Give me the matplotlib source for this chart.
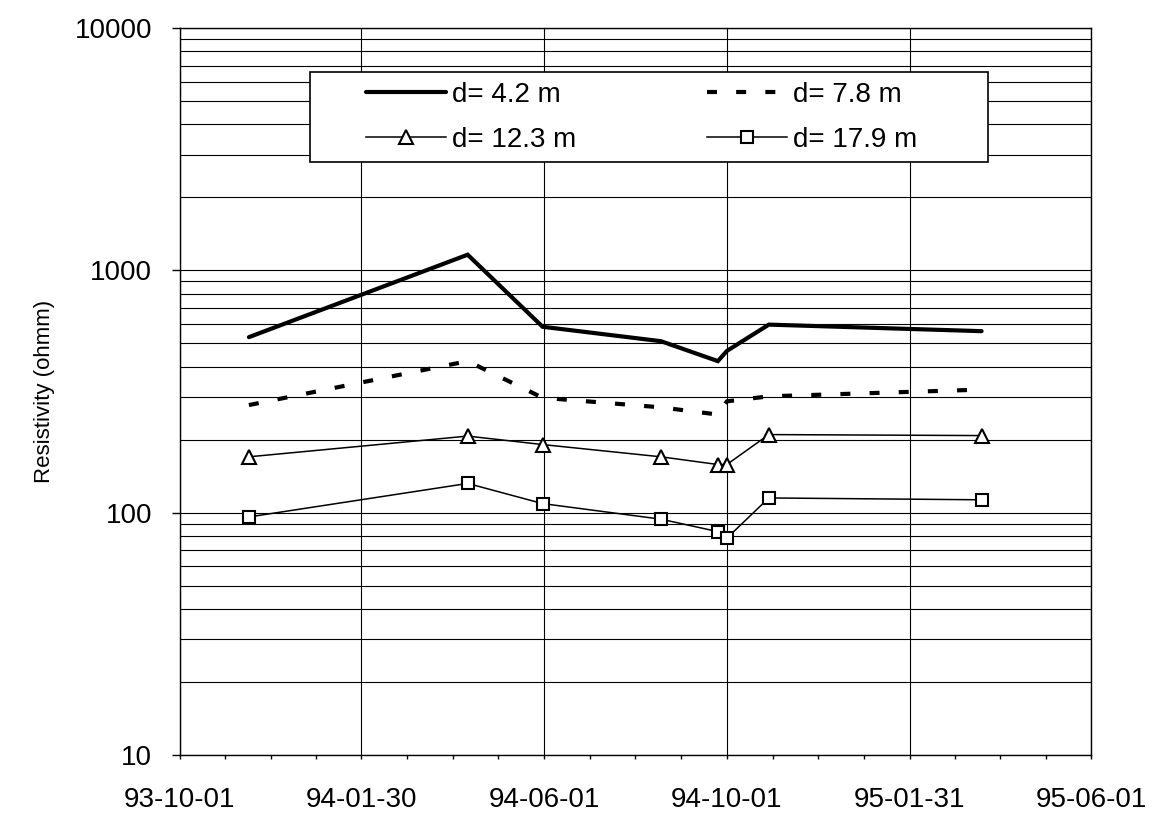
import datetime as dt
import numpy as np
import matplotlib
matplotlib.use("Agg")
import matplotlib.pyplot as plt
import matplotlib.dates as mdates
from matplotlib.ticker import FixedLocator, LogLocator, NullFormatter, FuncFormatter
from matplotlib.patches import Rectangle

plt.rcParams['font.family'] = ['Liberation Sans', 'DejaVu Sans']

# measurement dates (yy-mm-dd)
dates = ['1993-11-16', '1994-04-11', '1994-05-31', '1994-08-18',
         '1994-09-25', '1994-10-01', '1994-10-29', '1995-03-20']

# apparent resistivity (ohmm) for each electrode separation
res_42 = [530, 1160, 585, 510, 422, 465, 597, 561]
res_78 = [278, 422, 298, 272, 254, 288, 302, 322]
res_123 = [170, 207, 191, 170, 158, 158, 210, 208]
res_179 = [96, 132, 109, 94, 83.5, 78.5, 115, 113]

labels = ['d= 4.2 m', 'd= 7.8 m', 'd= 12.3 m', 'd= 17.9 m']

xticks = ['1993-10-01', '1994-01-30', '1994-06-01', '1994-10-01', '1995-01-31', '1995-06-01']
xticklabels = ['93-10-01', '94-01-30', '94-06-01', '94-10-01', '95-01-31', '95-06-01']
yticks = [10, 100, 1000, 10000]


def to_date(s):
    return dt.datetime.strptime(s, '%Y-%m-%d')


x = [to_date(d) for d in dates]

fig = plt.figure(figsize=(11.59, 8.14), dpi=100)
ax = fig.add_axes([0.1553, 0.0725, 0.7860, 0.8931])

l1, = ax.plot(x, res_42, color='black', lw=3.0, solid_capstyle='round', solid_joinstyle='miter', zorder=5)
l2, = ax.plot(x, res_78, color='black', lw=3.0, dashes=(2.4, 4.6), dash_capstyle='butt', zorder=5)
l3, = ax.plot(x, res_123, color='black', lw=1.1, marker='^', ms=10, mfc='white',
              mec='black', mew=1.5, zorder=6)
l4, = ax.plot(x, res_179, color='black', lw=1.1, marker='s', ms=9, mfc='white',
              mec='black', mew=1.5, zorder=6)

ax.set_yscale('log')
ax.set_ylim(10, 10000)
ax.set_xlim(to_date(xticks[0]), to_date(xticks[-1]))

# x ticks: labelled majors, three minors in between
major = [mdates.date2num(to_date(t)) for t in xticks]
minor = []
for a, b in zip(major[:-1], major[1:]):
    minor += list(np.linspace(a, b, 5)[1:-1])
ax.xaxis.set_major_locator(FixedLocator(major))
ax.xaxis.set_minor_locator(FixedLocator(minor))
ax.set_xticklabels(xticklabels)
ax.xaxis.set_minor_formatter(NullFormatter())

# y ticks
ax.yaxis.set_major_locator(FixedLocator(yticks))
ax.yaxis.set_major_formatter(FuncFormatter(lambda v, p: '%d' % v))
ax.yaxis.set_minor_locator(LogLocator(base=10, subs=np.arange(2, 10)))
ax.yaxis.set_minor_formatter(NullFormatter())

ax.tick_params(axis='x', which='both', direction='out', length=3, width=1, pad=20, labelsize=20)
ax.tick_params(axis='y', which='major', direction='out', length=6, width=1, pad=14, labelsize=20)
ax.tick_params(axis='y', which='minor', length=0)

ax.grid(True, axis='y', which='both', color='black', lw=0.8)
ax.grid(True, axis='x', which='major', color='black', lw=0.8)
ax.set_axisbelow(True)
for s in ax.spines.values():
    s.set_linewidth(1.0)
    s.set_color('black')

ax.set_ylabel('Resistivity (ohmm)', fontsize=16, labelpad=14)

# legend box
box = Rectangle((0.1427, 0.8157), 0.7443, 0.1238, transform=ax.transAxes,
                facecolor='white', edgecolor='black', lw=1.2, zorder=7)
ax.add_patch(box)
leg = ax.legend([l1, l3, l2, l4], [labels[0], labels[2], labels[1], labels[3]],
                ncol=2, loc='center', bbox_to_anchor=(0.5066, 0.877), frameon=False,
                fontsize=20, handlelength=2.9, handletextpad=0.2, columnspacing=4.7,
                labelspacing=0.7, borderpad=0)
leg.set_zorder(8)

fig.savefig('out.png', dpi=100)
